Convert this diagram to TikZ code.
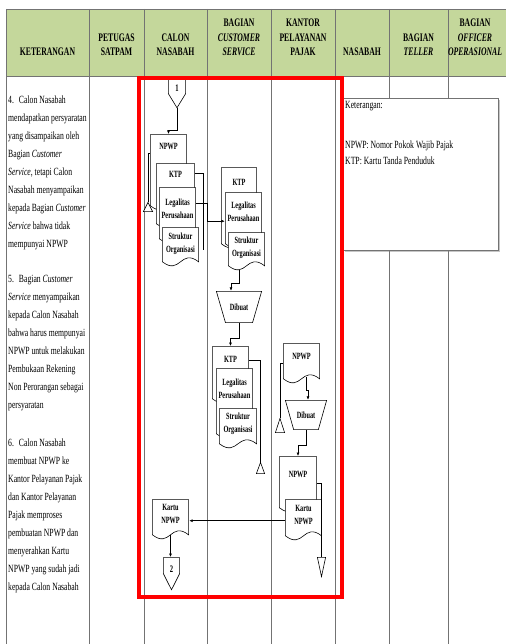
\documentclass[tikz,border=0pt]{standalone}
\usepackage{fontspec}
\setmainfont{Liberation Serif}[FakeStretch=0.7]
\newfontfamily\headfont{Liberation Serif}[FakeStretch=0.67]
\newfontfamily\docfont{Liberation Serif}[FakeStretch=0.66]
\usetikzlibrary{arrows.meta,calc,shadows}
\definecolor{hdrgreen}{RGB}{196,215,155}
\definecolor{gridgray}{RGB}{115,115,115}
\definecolor{markred}{RGB}{255,0,0}
% corners of a path picture, slightly inset
\newcommand{\ppcorners}{%
  \coordinate (ppnw) at ([shift={(.4pt,-.4pt)}]path picture bounding box.north west);
  \coordinate (ppse) at ([shift={(-.4pt,.4pt)}]path picture bounding box.south east);
  \coordinate (ppsw) at (ppnw |- ppse);
  \coordinate (ppne) at (ppse |- ppnw);}
\tikzset{
  >={Latex[length=3.5pt,width=3pt]},
  grid/.style={draw=gridgray,line width=.9pt},
  flow/.style={->,draw=black,line width=.6pt},
  link/.style={draw=black,line width=.6pt},
  shape line/.style={draw=black,fill=white,line width=.6pt},
  hdr/.style={anchor=south,inner sep=0pt,align=center,
    font=\headfont\bfseries\fontsize{11.5}{14.5}\selectfont},
  bodytext/.style={anchor=north west,inner sep=0pt,align=left,
    font=\fontsize{11}{18}\selectfont},
  legendbox/.style={anchor=north west,inner sep=0pt,minimum width=155pt,
    minimum height=152pt,draw=gridgray,fill=white,line width=.6pt,
    drop shadow={shadow xshift=1.5pt,shadow yshift=-1.5pt,opacity=.45}},
  legendtext/.style={anchor=north west,inner sep=0pt,align=left,
    font=\fontsize{11}{16}\selectfont},
  % document: width, height above first line, depth below it
  doc/.style n args={3}{anchor=north,inner sep=0pt,text width=#1,
    text height=#2,text depth=#3,align=center,
    font=\docfont\bfseries\fontsize{9.5}{12.5}\selectfont,
    path picture={\ppcorners
      \draw[shape line] (ppnw) -- (ppne) -- ($(ppse)+(0,6pt)$)
        .. controls ($(ppsw)!.5!(ppse)+(0,20pt)$) and ($(ppsw)!.5!(ppse)+(0,-8pt)$)
        .. ($(ppsw)+(0,6pt)$) -- cycle;}},
  offpage/.style 2 args={anchor=north,inner sep=0pt,minimum width=18pt,
    text height=#1,text depth=#2,font=\docfont\bfseries\fontsize{10}{10}\selectfont,
    path picture={\ppcorners
      \draw[shape line] (ppnw) -- (ppne) -- ($(ppne)!.5!(ppse)$)
        -- ($(ppsw)!.5!(ppse)$) -- ($(ppnw)!.5!(ppsw)$) -- cycle;}},
  manualop/.style={inner sep=0pt,font=\docfont\bfseries\fontsize{9.5}{9.5}\selectfont,
    path picture={\ppcorners
      \draw[shape line] (ppnw) -- (ppne) -- ($(ppse)!.2!(ppsw)$)
        -- ($(ppsw)!.2!(ppse)$) -- cycle;}},
  arsipup/.style={inner sep=0pt,
    path picture={\ppcorners
      \draw[shape line] ($(ppnw)!.5!(ppne)$) -- (ppse) -- (ppsw) -- cycle;}},
  arsipdown/.style={inner sep=0pt,
    path picture={\ppcorners
      \draw[shape line] (ppnw) -- (ppne) -- ($(ppsw)!.5!(ppse)$) -- cycle;}},
}
\begin{document}
\begin{tikzpicture}[x=1pt,y=-1pt]
  \useasboundingbox (0,0) rectangle (506,644);
  % table
  \fill[hdrgreen] (6,9) rectangle (506,76);
  \foreach \cx in {6,89,144,207,271,335,389,448}
    \draw[grid] (\cx,9) -- (\cx,644);
  \draw[grid] (6,9) -- (506,9) (6,76) -- (506,76);
  \node[hdr] (h_ket) at (47.5,56) {KETERANGAN};
  \node[hdr] (h_satpam) at (116.5,56) {PETUGAS\\SATPAM};
  \node[hdr] (h_calon) at (175.5,56) {CALON\\NASABAH};
  \node[hdr] (h_cs) at (239,56) {BAGIAN\\\textit{CUSTOMER}\\\textit{SERVICE}};
  \node[hdr] (h_kpp) at (303,56) {KANTOR\\PELAYANAN\\PAJAK};
  \node[hdr] (h_nasabah) at (362,56) {NASABAH};
  \node[hdr] (h_teller) at (418.5,56) {BAGIAN\\\textit{TELLER}};
  \node[hdr] (h_officer) at (475,56) {BAGIAN\\\textit{OFFICER}\\\textit{OPERASIONAL}};

  % keterangan column
  \node[bodytext] (ket_4) at (8,95.5) {4.\hspace{5pt}Calon Nasabah\\mendapatkan persyaratan\\yang disampaikan oleh\\Bagian \textit{Customer}\\\textit{Service}, tetapi Calon\\Nasabah menyampaikan\\kepada Bagian \textit{Customer}\\\textit{Service} bahwa tidak\\mempunyai NPWP};
  \node[bodytext] (ket_5) at (8,275.5) {5.\hspace{5pt}Bagian \textit{Customer}\\\textit{Service} menyampaikan\\kepada Calon Nasabah\\bahwa harus mempunyai\\NPWP untuk melakukan\\Pembukaan Rekening\\Non Perorangan sebagai\\persyaratan};
  \node[bodytext] (ket_6) at (8,438.5) {6.\hspace{5pt}Calon Nasabah\\membuat NPWP ke\\Kantor Pelayanan Pajak\\dan Kantor Pelayanan\\Pajak memproses\\pembuatan NPWP dan\\menyerahkan Kartu\\NPWP yang sudah jadi\\kepada Calon Nasabah};

  % legend
  \node[legendbox] (legend) at (343,98) {};
  \node[legendtext] (legend_txt) at ($(legend.north west)+(2,3)$) {Keterangan:\\[24pt]NPWP: Nomor Pokok Wajib Pajak\\KTP: Kartu Tanda Penduduk};

  % calon nasabah
  \node[offpage={12pt}{17pt}] (off1) at (177,79) {1};
  \node[doc={37pt}{15.5pt}{62.5pt}] (cn_npwp) at (168.5,134) {NPWP};
  \node[doc={39pt}{14.5pt}{52.5pt}] (cn_ktp) at (175.5,163) {KTP};
  \node[doc={37pt}{18.5pt}{39.5pt}] (cn_leg) at (177.5,187) {Legalitas\\Perusahaan};
  \node[doc={37pt}{12.5pt}{28.5pt}] (cn_str) at (180.5,227) {Struktur\\Organisasi};
  \node[arsipup,minimum width=10pt,minimum height=10pt] (cn_arsip) at (148,207) {};
  \node[doc={37pt}{11.5pt}{30.5pt}] (cn_kartu) at (170.5,499) {Kartu\\NPWP};
  \node[offpage={15.5pt}{17.5pt},minimum width=17pt] (off2) at (171.5,557) {2};

  % customer service
  \node[doc={36pt}{18.5pt}{64.5pt}] (cs_ktp) at (239,167) {KTP};
  \node[doc={37pt}{16.5pt}{41.5pt}] (cs_leg) at (243.5,192) {Legalitas\\Perusahaan};
  \node[doc={37pt}{11.5pt}{28.5pt}] (cs_str) at (246.5,232) {Struktur\\Organisasi};
  \node[manualop,minimum width=46pt,minimum height=32pt] (cs_dibuat) at (239,307) {Dibuat};
  \node[doc={37pt}{16.5pt}{42.5pt}] (cs_ktp2) at (230.5,346) {KTP};
  \node[doc={37pt}{17.5pt}{54.5pt}] (cs_leg2) at (234.5,368) {Legalitas\\Perusahaan};
  \node[doc={38pt}{11.5pt}{30.5pt}] (cs_str2) at (238,408) {Struktur\\Organisasi};
  \node[arsipup,minimum width=9pt,minimum height=12pt] (cs_arsip) at (260.5,468) {};

  % kantor pelayanan pajak
  \node[doc={37pt}{16.5pt}{25.5pt}] (kpp_npwp) at (301.5,343) {NPWP};
  \node[arsipup,minimum width=10pt,minimum height=15pt] (kpp_arsip) at (280,425.5) {};
  \node[manualop,minimum width=42pt,minimum height=30pt] (kpp_dibuat) at (306,415) {Dibuat};
  \node[doc={38pt}{21.5pt}{36.5pt}] (kpp_npwp2) at (298,456) {NPWP};
  \node[doc={37pt}{12.5pt}{30.5pt}] (kpp_kartu) at (303.5,499) {Kartu\\NPWP};
  \node[arsipdown,minimum width=9pt,minimum height=20pt] (kpp_arsip2) at (321.5,567) {};

  % connectors
  \draw[flow] (off1.south) -- ++(0,22) -| (cn_npwp.north);
  \draw[link] ($(cn_npwp.north west)+(0,19)$) -| (cn_arsip.north);
  \coordinate (cn_ktp_end) at (203,250);
  \draw[link] ($(cn_ktp.north east)+(0,10)$) -| (cn_ktp_end);
  \draw[flow] ($(cn_leg.north east)+(0,16)$) -- ++(11,0) |- (cs_leg.west);
  \draw[flow] ($(cs_str.south)+(-7.5,-2.5)$) -- ++(0,13.5) -| ($(cs_dibuat.north)+(-8,0)$);
  \draw[flow] (cs_dibuat.south) -- ++(0,15) -| (cs_ktp2.north);
  \draw[link] ($(cs_ktp2.north east)+(0,14)$) -| (cs_arsip.north);
  \draw[link] ($(kpp_npwp.north west)+(0,20)$) -| (kpp_arsip.north);
  \draw[flow] ($(kpp_npwp.south)+(4.5,-8)$) -- ++(0,13) -| ($(kpp_dibuat.north)+(2,0)$);
  \draw[flow] (kpp_dibuat.south) -- ++(0,15) -| (kpp_npwp2.north);
  \draw[link] ($(kpp_npwp2.north east)+(0,27)$) -| (kpp_arsip2.north);
  \draw[flow] (kpp_kartu.west) -- (kpp_kartu.west -| cn_kartu.east);
  \draw[flow] ($(cn_kartu.south)+(0,-6)$) -- (cn_kartu.south |- off2.north);

  % highlighted area
  \draw[markred,line width=4pt] (139,78) rectangle (341.5,596.5);
\end{tikzpicture}
\end{document}
